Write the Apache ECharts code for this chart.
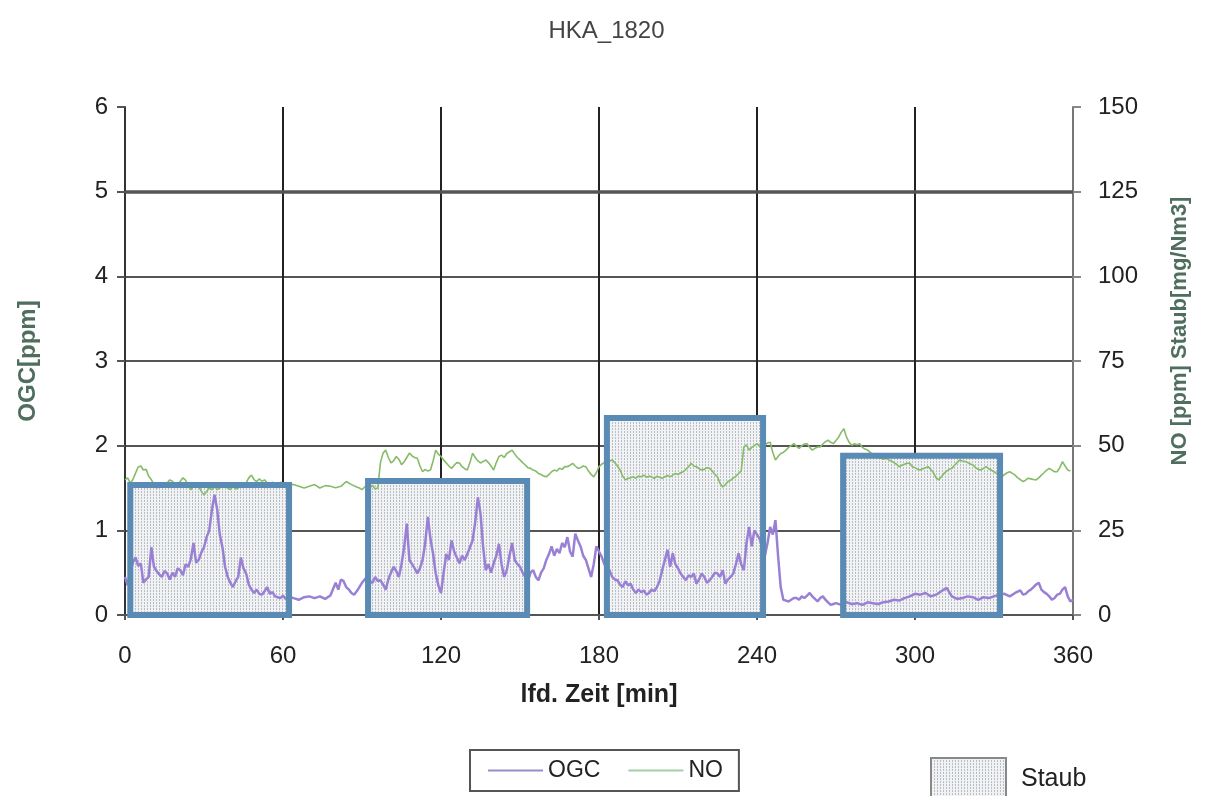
<!DOCTYPE html>
<html>
<head>
<meta charset="utf-8">
<script src="https://cdn.jsdelivr.net/npm/echarts@6/dist/echarts.min.js"></script>
<style>
html,body{margin:0;padding:0;background:#fff;}
#chart{width:1213px;height:796px;}
</style>
</head>
<body>
<div id="chart"></div>
<script>
// ---- data ----
const titleText = 'HKA_1820';
const xTicks = [0, 60, 120, 180, 240, 300, 360];
const leftTicks = [0, 1, 2, 3, 4, 5, 6];
const rightTicks = [0, 25, 50, 75, 100, 125, 150];

// Staub (dust) blocks: start minute, end minute, value [mg/Nm3]
const staubStart = [2, 92.3, 183, 272.7];
const staubEnd = [62.3, 152.7, 242.3, 332.3];
const staubValue = [38.4, 39.6, 58.2, 47];

// OGC [ppm] : [minute, value]
const ogcData = [
[0,0.45],[1,0.35],[2,0.5],[3,0.62],[4,0.68],[5,0.58],[6,0.61],[7,0.38],[8,0.42],[9,0.45],
[10,0.8],[11,0.57],[12,0.52],[13,0.48],[14,0.45],[15,0.52],[16,0.49],[17,0.42],[18,0.5],[19,0.45],
[20,0.55],[21,0.53],[22,0.47],[23,0.6],[24,0.57],[25,0.66],[26,0.85],[27,0.62],[28,0.65],[29,0.74],
[30,0.8],[31,0.92],[32,1.0],[33,1.24],[34,1.42],[35,1.25],[36,0.95],[37,0.8],[38,0.57],[39,0.45],
[40,0.38],[41,0.33],[42,0.4],[43,0.45],[44,0.68],[45,0.55],[46,0.49],[47,0.36],[48,0.3],[49,0.26],
[50,0.3],[51,0.25],[52,0.24],[53,0.28],[54,0.33],[55,0.25],[56,0.27],[57,0.22],[58,0.21],[59,0.2],
[60,0.23],[61,0.19],[62,0.22],[64,0.2],[66,0.18],[68,0.21],[70,0.22],[72,0.2],[74,0.22],[76,0.19],
[78,0.23],[80,0.38],[81,0.3],[82,0.42],[83,0.4],[84,0.33],[85,0.3],[86,0.26],[87,0.24],[88,0.28],
[89,0.33],[90,0.38],[91,0.42],[92,0.45],[93,0.4],[94,0.38],[95,0.45],[96,0.4],[97,0.41],[98,0.36],
[99,0.3],[100,0.42],[101,0.5],[102,0.57],[103,0.52],[104,0.45],[105,0.6],[106,0.8],[107,1.08],[108,0.65],
[109,0.6],[110,0.55],[111,0.49],[112,0.55],[113,0.65],[114,0.85],[115,1.16],[116,0.9],[117,0.72],[118,0.49],
[119,0.35],[120,0.26],[121,0.5],[122,0.72],[123,0.65],[124,0.88],[125,0.75],[126,0.68],[127,0.61],[128,0.7],
[129,0.65],[130,0.72],[131,0.8],[132,0.88],[133,1.1],[134,1.39],[135,1.2],[136,0.8],[137,0.53],[138,0.6],
[139,0.5],[140,0.61],[141,0.7],[142,0.84],[143,0.6],[144,0.45],[145,0.53],[146,0.7],[147,0.85],[148,0.65],
[149,0.6],[150,0.57],[151,0.5],[152,0.45],[153,0.4],[154,0.5],[155,0.53],[156,0.45],[157,0.41],[158,0.5],
[159,0.55],[160,0.65],[161,0.72],[162,0.81],[163,0.7],[164,0.78],[165,0.73],[166,0.85],[167,0.8],[168,0.92],
[169,0.75],[170,0.69],[171,0.96],[172,0.88],[173,0.81],[174,0.7],[175,0.65],[176,0.55],[177,0.45],[178,0.6],
[179,0.81],[180,0.75],[181,0.69],[182,0.6],[183,0.55],[184,0.53],[185,0.45],[186,0.42],[187,0.41],[188,0.36],
[189,0.33],[190,0.4],[191,0.35],[192,0.37],[193,0.3],[194,0.26],[195,0.3],[196,0.27],[197,0.29],[198,0.24],
[199,0.26],[200,0.3],[201,0.28],[202,0.33],[203,0.4],[204,0.53],[205,0.65],[206,0.77],[207,0.57],[208,0.73],
[209,0.6],[210,0.55],[211,0.49],[212,0.45],[213,0.41],[214,0.47],[215,0.45],[216,0.49],[217,0.37],[218,0.42],
[219,0.49],[220,0.45],[221,0.38],[222,0.41],[223,0.45],[224,0.5],[225,0.49],[226,0.45],[227,0.53],[228,0.37],
[229,0.42],[230,0.45],[231,0.49],[232,0.6],[233,0.73],[234,0.6],[235,0.53],[236,0.85],[237,1.04],[238,0.81],
[239,1.0],[240,0.95],[241,0.9],[242,0.8],[243,0.7],[244,0.85],[245,1.04],[246,0.95],[247,1.12],[248,0.7],
[249,0.33],[250,0.18],[251,0.17],[252,0.16],[253,0.18],[254,0.2],[255,0.2],[256,0.18],[257,0.22],[258,0.2],
[259,0.23],[260,0.26],[261,0.22],[262,0.19],[263,0.16],[264,0.2],[265,0.22],[266,0.18],[267,0.15],[268,0.12],
[269,0.13],[270,0.14],[272,0.12],[274,0.15],[276,0.13],[278,0.14],[280,0.12],[282,0.15],[284,0.14],[286,0.13],
[288,0.15],[290,0.16],[292,0.18],[294,0.17],[296,0.2],[298,0.22],[300,0.25],[302,0.24],[304,0.26],[306,0.22],
[308,0.24],[310,0.28],[312,0.32],[314,0.22],[316,0.19],[318,0.2],[320,0.22],[322,0.21],[324,0.18],[326,0.21],
[328,0.2],[330,0.22],[332,0.24],[334,0.25],[336,0.22],[338,0.26],[340,0.29],[341,0.24],[342,0.25],[343,0.28],
[344,0.3],[345,0.33],[346,0.36],[347,0.38],[348,0.3],[349,0.27],[350,0.25],[351,0.22],[352,0.18],[353,0.2],
[354,0.24],[355,0.25],[356,0.3],[357,0.33],[358,0.22],[359,0.16],[360,0.18]
];

// NO [ppm] : [minute, value]
const noData = [
[0,39.9],[1,40.5],[2,39],[3,40],[4,41.9],[5,43.7],[6,44],[7,42.8],[8,43],[9,41],
[10,40],[11,38.5],[12,37.5],[13,38],[14,37.8],[15,38],[16,39],[17,39.9],[18,39.5],[19,38.5],
[20,38.5],[21,39.5],[22,40.5],[23,39.8],[24,38],[25,37],[26,38],[27,38.5],[28,38],[29,36.5],
[30,35.4],[31,36.5],[32,37.5],[33,37],[34,38],[35,37],[36,37.5],[37,38.5],[38,38],[39,37.5],
[40,37],[41,38],[42,37.2],[43,37.5],[44,38.5],[45,38],[46,39],[47,40.5],[48,41.3],[49,40],
[50,39.4],[51,40.2],[52,39.5],[53,39.9],[54,39],[55,38.5],[56,39.2],[57,38.7],[58,38.5],[59,39.2],
[60,39],[62,38.7],[64,38.5],[66,38],[68,37.5],[70,38],[72,38.5],[74,37.5],[76,38.2],[78,38],
[80,37.6],[82,38],[84,39.4],[86,38.5],[88,37.8],[89,37.5],[90,37],[91,37.8],[92,38.5],[93,37.6],
[94,38.3],[95,37.2],[96,37.5],[97,45],[98,47.8],[99,48.7],[100,46.5],[101,44.9],[102,45.5],[103,46.8],
[104,46],[105,44.4],[106,45.2],[107,46.5],[108,47.8],[109,47],[110,46.5],[111,46.3],[112,44],[113,42.3],
[114,43],[115,42.5],[116,42.8],[117,45.5],[118,48.7],[119,47.5],[120,46.8],[121,45.8],[122,44.9],[123,44],
[124,43.3],[125,44.2],[126,45],[127,44.9],[128,43.8],[129,43.2],[130,42.8],[131,45],[132,47.8],[133,46.5],
[134,45.5],[135,44.9],[136,45.3],[137,45.8],[138,45],[139,44],[140,42.8],[141,45],[142,46.8],[143,47.2],
[144,46.5],[145,47.7],[146,48.2],[147,48.7],[148,47.5],[149,46.5],[150,45.8],[151,45],[152,44.3],[153,43.5],
[154,43.3],[155,42.8],[156,42.5],[157,41.8],[158,41.5],[159,41],[160,40.8],[161,41.5],[162,42.3],[163,42.8],
[164,42.5],[165,43.3],[166,43],[167,43.8],[168,43.8],[169,44.2],[170,44.8],[171,44],[172,43.3],[173,43.5],
[174,44],[175,43.8],[176,42.5],[177,41.5],[178,40.8],[179,42],[180,43.8],[181,44.5],[182,45],[183,45.3],
[184,45.5],[185,45.8],[186,45],[187,44],[188,42.8],[189,41],[190,39.9],[191,40.3],[192,40.5],[193,40.8],
[194,40.4],[195,41],[196,40.8],[197,41.3],[198,40.7],[199,41],[200,40.8],[201,40.3],[202,41],[203,40.7],
[204,40.4],[205,40.8],[206,41.2],[207,40.8],[208,41.3],[209,41.8],[210,41.5],[211,42],[212,42.3],[213,43],
[214,43.8],[215,44.8],[216,44],[217,43.8],[218,43.2],[219,42.8],[220,43],[221,43.5],[222,43.3],[223,42.5],
[224,41.5],[225,40.8],[226,38.8],[227,37.8],[228,38.5],[229,39.4],[230,39.8],[231,40.4],[232,41],[233,41.8],
[234,42.5],[235,49.6],[236,50.2],[237,48.7],[238,49.5],[239,50],[240,50.6],[241,49.8],[242,49.6],[243,50.2],
[244,50.8],[245,51],[246,48],[247,45.8],[248,46.8],[249,47.7],[250,48],[251,48.7],[252,49.5],[253,50],
[254,50.6],[255,49.8],[256,49.2],[257,50],[258,50.5],[259,50.6],[260,49.5],[261,48.7],[262,49.2],[263,49.6],
[264,49.6],[265,50.5],[266,51.2],[267,51.6],[268,51],[269,50.6],[270,51.5],[271,52.5],[272,54],[273,55],
[274,52.5],[275,51],[276,50.1],[277,50.6],[278,50.3],[279,50.6],[280,49.5],[281,49],[282,48.7],[283,48],
[284,47.5],[285,47.2],[286,46.5],[287,46.3],[288,46],[289,46.3],[290,45.8],[291,45.5],[292,45],[293,44.5],
[294,43.8],[295,44.2],[296,44.5],[297,44.8],[298,44.8],[299,43.8],[300,43.5],[301,43],[302,42.8],[303,43.2],
[304,43.5],[305,43.8],[306,43],[307,42],[308,40.5],[309,39.9],[310,40.8],[311,41.8],[312,42.5],[313,43],
[314,43.3],[315,44.2],[316,45],[317,45.8],[318,45.5],[319,45.3],[320,45],[321,44.6],[322,44.3],[323,43.5],
[324,43],[325,42.8],[326,43.3],[327,43.8],[328,43.2],[329,42.8],[330,42.3],[331,41.8],[332,41.3],[333,40.8],
[334,41.5],[335,42],[336,42.3],[337,41.8],[338,41.3],[339,40.5],[340,40],[341,39.4],[342,39.8],[343,40.4],
[344,40.2],[345,40],[346,39.9],[347,40.5],[348,41.3],[349,42],[350,42.8],[351,43.3],[352,42.8],[353,42.3],
[354,42.3],[355,43.5],[356,45.3],[357,44],[358,42.8],[359,42.5]
];

// ---- styling helpers ----
function makeDots() {
  const c = document.createElement('canvas');
  c.width = 3; c.height = 3;
  const g = c.getContext('2d');
  g.fillStyle = '#f0f2f4';
  g.fillRect(0, 0, 3, 3);
  g.fillStyle = '#b8bec4';
  g.fillRect(0, 0, 1, 1);
  g.fillRect(0, 2, 1, 1);
  return c;
}
const dotPattern = { image: makeDots(), repeat: 'repeat' };

const staubData = staubStart.map((s, i) => [s, staubEnd[i], staubValue[i]]);
const FONT = 'Liberation Sans, Arial, sans-serif';

function rectItem(params, api, withFill) {
  const p0 = api.coord([api.value(0), 0]);
  const p1 = api.coord([api.value(1), api.value(2)]);
  return {
    type: 'rect',
    shape: { x: p0[0], y: p1[1], width: p1[0] - p0[0], height: p0[1] - p1[1] },
    style: withFill ? { fill: dotPattern, stroke: null }
                    : { fill: null, stroke: '#5a8bb4', lineWidth: 6 }
  };
}

const chart = echarts.init(document.getElementById('chart'), null, { renderer: 'canvas' });
chart.setOption({
  backgroundColor: '#ffffff',
  animation: false,
  title: {
    text: titleText, left: 'center', top: 14,
    textStyle: { fontFamily: FONT, fontSize: 24, fontWeight: 'normal', color: '#444' }
  },
  legend: [
    {
      data: [{ name: 'OGC', icon: 'rect' }, { name: 'NO', icon: 'rect' }],
      left: 470, top: 750,
      itemWidth: 55, itemHeight: 2, itemGap: 28,
      padding: [9, 16, 9, 18],
      borderColor: '#555', borderWidth: 2,
      textStyle: { fontFamily: FONT, fontSize: 23, color: '#222', padding: [0, 0, 0, 0] }
    },
    {
      data: [{ name: 'Staub', icon: 'rect' }],
      left: 930, top: 757,
      itemWidth: 75, itemHeight: 42, itemGap: 10,
      padding: 0,
      textStyle: { fontFamily: FONT, fontSize: 25, color: '#222', padding: [0, 0, 0, 10] }
    }
  ],
  grid: { left: 125, right: 140, top: 107, bottom: 181 },
  xAxis: {
    type: 'value', min: xTicks[0], max: xTicks[xTicks.length - 1], interval: 60,
    name: 'lfd. Zeit [min]', nameLocation: 'middle', nameGap: 68,
    nameTextStyle: { fontFamily: FONT, fontSize: 25, fontWeight: 'bold', color: '#222' },
    axisLine: { show: true, lineStyle: { color: '#555', width: 2 } },
    axisTick: { show: true, length: 5, lineStyle: { color: '#555', width: 2 } },
    axisLabel: { fontFamily: FONT, fontSize: 24, color: '#222', margin: 29 },
    splitLine: { show: true, lineStyle: { color: '#222', width: 2 } }
  },
  yAxis: [
    {
      type: 'value', min: leftTicks[0], max: leftTicks[leftTicks.length - 1], interval: 1,
      name: 'OGC[ppm]', nameLocation: 'middle', nameGap: 85,
      nameTextStyle: { fontFamily: FONT, fontSize: 24, fontWeight: 'bold', color: '#4f6e5e' },
      axisLine: { show: true, lineStyle: { color: '#333', width: 2 } },
      axisTick: { show: true, length: 8, lineStyle: { color: '#555', width: 2 } },
      axisLabel: { fontFamily: FONT, fontSize: 24, color: '#222', margin: 17 },
      splitLine: { show: true, lineStyle: { color: ['#555', '#555', '#555', '#555', '#555', '#555', 'rgba(0,0,0,0)'], width: 2 } }
    },
    {
      type: 'value', min: rightTicks[0], max: rightTicks[rightTicks.length - 1], interval: 25,
      position: 'right',
      name: 'NO [ppm] Staub[mg/Nm3]', nameLocation: 'middle', nameGap: 96, nameRotate: 90,
      nameTextStyle: { fontFamily: FONT, fontSize: 22, fontWeight: 'bold', color: '#4f6e5e', padding: [0, 0, 0, 60] },
      axisLine: { show: true, lineStyle: { color: '#777', width: 2 } },
      axisTick: { show: true, length: 8, lineStyle: { color: '#888', width: 2 } },
      axisLabel: { fontFamily: FONT, fontSize: 24, color: '#222', margin: 25 },
      splitLine: { show: false }
    }
  ],
  series: [
    {
      name: 'Staub', type: 'custom', yAxisIndex: 1, z: 1,
      encode: { x: [0, 1], y: 2 },
      itemStyle: { color: dotPattern, borderColor: '#888', borderWidth: 1.5 },
      renderItem: (p, api) => rectItem(p, api, true),
      data: staubData
    },
    {
      name: 'OGC', type: 'line', yAxisIndex: 0, z: 3,
      showSymbol: false, symbol: 'none',
      lineStyle: { color: '#9a80d4', width: 2.5 },
      itemStyle: { color: '#9a8cc8' },
      data: ogcData,
      markLine: {
        silent: true, symbol: 'none', label: { show: false },
        lineStyle: { color: '#555', width: 3.5, type: 'solid' },
        data: [{ yAxis: 5 }]
      }
    },
    {
      name: 'NO', type: 'line', yAxisIndex: 1, z: 3,
      showSymbol: false, symbol: 'none',
      lineStyle: { color: '#86bb68', width: 1.6 },
      itemStyle: { color: '#9fd0a8' },
      data: noData
    },
    {
      name: 'StaubRand', type: 'custom', yAxisIndex: 1, z: 4,
      encode: { x: [0, 1], y: 2 },
      renderItem: (p, api) => rectItem(p, api, false),
      data: staubData
    }
  ]
});
</script>
</body>
</html>
